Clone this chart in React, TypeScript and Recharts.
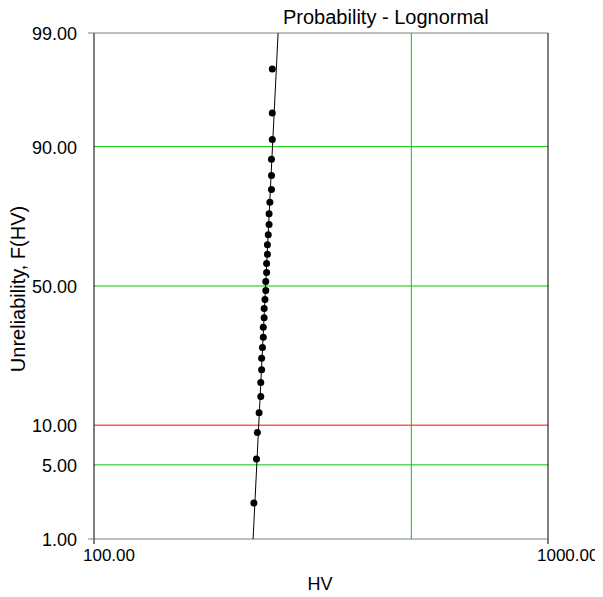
import React from "react";
import {
  ComposedChart,
  Scatter,
  XAxis,
  YAxis,
  ReferenceLine,
} from "recharts";

// HV readings (sorted) and their median-rank unreliability, %
const HV = [
  225, 228, 229, 231, 233, 233, 234, 234, 235, 236,
  236, 237, 237, 238, 239, 239, 240, 240, 241, 241,
  242, 243, 243, 244, 246, 246, 246, 247, 247, 247,
];
const F_PCT = [
  2.3, 5.59, 8.88, 12.17, 15.46, 18.75, 22.04, 25.33, 28.62, 31.91,
  35.2, 38.49, 41.78, 45.07, 48.36, 51.64, 54.93, 58.22, 61.51, 64.8,
  68.09, 71.38, 74.67, 77.96, 81.25, 84.54, 87.83, 91.12, 94.41, 97.7,
];

// fitted lognormal line end points
const FIT_HV = [224.1, 254.4];
const FIT_PCT = [1, 99];

const Y_TICKS_PCT = [1, 5, 10, 50, 90, 99];
const X_TICKS = [100, 1000];
const GREEN_PCT = [5, 50, 90];
const RED_PCT = [10];
const GREEN_HV = [500];

const FONT = "Arial, 'Liberation Sans', sans-serif";

// Acklam inverse normal cdf
function probit(p: number): number {
  const a = [-3.969683028665376e1, 2.209460984245205e2, -2.759285104469687e2, 1.38357751867269e2, -3.066479806614716e1, 2.506628277459239];
  const b = [-5.447609879822406e1, 1.615858368580409e2, -1.556989798598866e2, 6.680131188771972e1, -1.328068155288572e1];
  const c = [-7.784894002430293e-3, -3.223964580411365e-1, -2.400758277161838, -2.549732539343734, 4.374664141464968, 2.938163982698783];
  const d = [7.784695709041462e-3, 3.224671290700398e-1, 2.445134137142996, 3.754408661907416];
  const pl = 0.02425;
  if (p < pl) {
    const q = Math.sqrt(-2 * Math.log(p));
    return (((((c[0] * q + c[1]) * q + c[2]) * q + c[3]) * q + c[4]) * q + c[5]) /
      ((((d[0] * q + d[1]) * q + d[2]) * q + d[3]) * q + 1);
  }
  if (p <= 1 - pl) {
    const q = p - 0.5;
    const r = q * q;
    return ((((((a[0] * r + a[1]) * r + a[2]) * r + a[3]) * r + a[4]) * r + a[5]) * q) /
      (((((b[0] * r + b[1]) * r + b[2]) * r + b[3]) * r + b[4]) * r + 1);
  }
  const q = Math.sqrt(-2 * Math.log(1 - p));
  return -(((((c[0] * q + c[1]) * q + c[2]) * q + c[3]) * q + c[4]) * q + c[5]) /
    ((((d[0] * q + d[1]) * q + d[2]) * q + d[3]) * q + 1);
}

const z = (pct: number) => probit(pct / 100);

const points = HV.map((hv, i) => ({ hv, z: z(F_PCT[i]) }));
const fit = FIT_HV.map((hv, i) => ({ hv, z: z(FIT_PCT[i]) }));
const yTicks = Y_TICKS_PCT.map(z);
const zMin = z(1);
const zMax = z(99);

const YTick = (props: any) => {
  const { x, y, index } = props;
  const pct = Y_TICKS_PCT[index];
  const edge = pct === 1 || pct === 99;
  return (
    <g>
      {edge && <line x1={x + 2} x2={x + 8} y1={y} y2={y} stroke="#808080" />}
      <text x={x - 9} y={y + 7} textAnchor="end" fontSize={18} fontFamily={FONT} fill="#000">
        {pct.toFixed(2)}
      </text>
    </g>
  );
};

const XTick = (props: any) => {
  const { x, y, payload } = props;
  return (
    <text x={x - 11} y={y + 15} textAnchor="start" fontSize={17} fontFamily={FONT} fill="#000">
      {Number(payload.value).toFixed(2)}
    </text>
  );
};

export default function App() {
  return (
    <div style={{ position: "relative", width: 595, height: 589 }}>
      <style>{`svg { overflow: visible; }`}</style>
      <div
        style={{
          position: "absolute",
          left: 275,
          top: -2,
          fontFamily: FONT,
          fontSize: 20,
          whiteSpace: "nowrap",
          color: "#000",
        }}
      >
        Probability - Lognormal
      </div>
      <ComposedChart
        width={595}
        height={589}
        margin={{ top: 25, right: 55, bottom: 8, left: 6 }}
      >
        <XAxis
          dataKey="hv"
          type="number"
          scale="log"
          domain={[100, 1000]}
          ticks={X_TICKS}
          allowDataOverflow
          height={50}
          axisLine={{ stroke: "#808080" }}
          tickLine={{ stroke: "#000" }}
          tickSize={5}
          tick={<XTick />}
          label={{
            content: (p: any) => (
              <text
                x={p.viewBox.x + p.viewBox.width / 2 - 1}
                y={p.viewBox.y + 51}
                textAnchor="middle"
                fontSize={18}
                fontFamily={FONT}
                fill="#000"
              >
                HV
              </text>
            ),
          }}
        />
        <YAxis
          dataKey="z"
          type="number"
          domain={[zMin, zMax]}
          ticks={yTicks}
          allowDataOverflow
          width={80}
          axisLine={{ stroke: "#000" }}
          tickLine={false}
          tick={<YTick />}
          label={{
            content: (p: any) => {
              const cx = 10;
              const cy = p.viewBox.y + p.viewBox.height / 2 + 3;
              return (
                <text
                  x={cx}
                  y={cy}
                  transform={`rotate(-90, ${cx}, ${cy})`}
                  textAnchor="middle"
                  dominantBaseline="central"
                  fontSize={20}
                  fontFamily={FONT}
                  fill="#000"
                >
                  Unreliability, F(HV)
                </text>
              );
            },
          }}
        />
        {GREEN_PCT.map((p) => (
          <ReferenceLine key={`g${p}`} y={z(p)} stroke="#00c800" strokeWidth={1} />
        ))}
        {RED_PCT.map((p) => (
          <ReferenceLine key={`r${p}`} y={z(p)} stroke="#ff5a5a" strokeWidth={1.5} />
        ))}
        {GREEN_HV.map((v) => (
          <ReferenceLine key={`v${v}`} x={v} stroke="#00c800" strokeWidth={1} />
        ))}
        <ReferenceLine y={zMax} stroke="#808080" />
        <ReferenceLine x={1000} stroke="#000" />
        <Scatter
          data={fit}
          dataKey="z"
          line={{ stroke: "#000", strokeWidth: 1 }}
          shape={() => <g />}
          isAnimationActive={false}
        />
        <Scatter
          data={points}
          dataKey="z"
          fill="#000"
          shape={(p: any) => <circle cx={p.cx} cy={p.cy} r={3.5} fill="#000" />}
          isAnimationActive={false}
        />
      </ComposedChart>
    </div>
  );
}
